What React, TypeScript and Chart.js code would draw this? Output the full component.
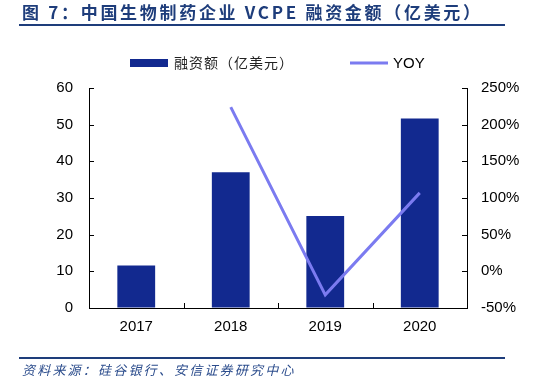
import React, { useEffect, useRef } from "react";
import { Chart, registerables } from "chart.js";

Chart.register(...registerables);

const categories = ["2017", "2018", "2019", "2020"];
const fundingValues = [11.6, 37.0, 25.1, 51.7];
const yoyValues: (number | null)[] = [null, 224, -32, 107];
const leftTicks = { min: 0, max: 60, step: 10 };
const rightTicks = { min: -50, max: 250, step: 50 };

const BAR_COLOR = "#12298F";
const LINE_COLOR = "#7B7BF0";
const TITLE_COLOR = "#1E3D7B";

const innerTicks = {
  id: "innerTicks",
  afterDraw(chart: any) {
    const ctx = chart.ctx;
    const { x, y, y1 } = chart.scales;
    ctx.save();
    ctx.strokeStyle = "#000";
    ctx.lineWidth = 1;
    ctx.beginPath();
    y.ticks.forEach((t: any) => {
      const py = Math.round(y.getPixelForValue(t.value)) + 0.5;
      ctx.moveTo(chart.chartArea.left, py);
      ctx.lineTo(chart.chartArea.left + 5, py);
    });
    y1.ticks.forEach((t: any) => {
      const py = Math.round(y1.getPixelForValue(t.value)) + 0.5;
      ctx.moveTo(chart.chartArea.right, py);
      ctx.lineTo(chart.chartArea.right - 5, py);
    });
    const n = categories.length;
    for (let i = 1; i < n; i++) {
      const px = Math.round((x.getPixelForValue(i - 1) + x.getPixelForValue(i)) / 2) + 0.5;
      ctx.moveTo(px, chart.chartArea.bottom);
      ctx.lineTo(px, chart.chartArea.bottom - 5);
    }
    ctx.stroke();
    ctx.restore();
  },
};

const customLegend = {
  id: "customLegend",
  afterDraw(chart: any) {
    const ctx = chart.ctx;
    const ds = chart.data.datasets;
    ctx.save();
    ctx.fillStyle = ds[0].backgroundColor;
    ctx.fillRect(130, 59, 38, 8);
    ctx.fillStyle = "#222";
    ctx.font = "14px 'Noto Sans CJK SC'";
    ctx.textBaseline = "middle";
    (ctx as any).letterSpacing = "1px";
    ctx.fillText(ds[0].label, 174, 63);
    ctx.strokeStyle = ds[1].borderColor;
    ctx.lineWidth = 3;
    ctx.beginPath();
    ctx.moveTo(350, 63);
    ctx.lineTo(388, 63);
    ctx.stroke();
    (ctx as any).letterSpacing = "0px";
    ctx.fillStyle = "#000";
    ctx.font = "15px 'Liberation Sans'";
    ctx.fillText(ds[1].label, 393, 64);
    ctx.restore();
  },
};

export default function App() {
  const ref = useRef<HTMLCanvasElement>(null);
  useEffect(() => {
    if (!ref.current) return;
    const chart = new Chart(ref.current, {
      type: "bar",
      data: {
        labels: categories,
        datasets: [
          {
            type: "bar",
            label: "融资额（亿美元）",
            data: fundingValues,
            backgroundColor: BAR_COLOR,
            yAxisID: "y",
            categoryPercentage: 1,
            barPercentage: 0.4,
            order: 1,
          },
          {
            type: "line",
            label: "YOY",
            data: yoyValues,
            borderColor: LINE_COLOR,
            backgroundColor: LINE_COLOR,
            borderWidth: 3,
            pointRadius: 0,
            tension: 0,
            yAxisID: "y1",
            order: 0,
          } as any,
        ],
      },
      options: {
        animation: false,
        responsive: false,
        maintainAspectRatio: false,
        layout: { padding: { top: 88, left: 0, right: 0, bottom: 0 } },
        plugins: { legend: { display: false }, tooltip: { enabled: false }, title: { display: false } },
        scales: {
          x: {
            grid: { display: true, drawOnChartArea: false, drawTicks: false },
            border: { display: true, color: "#000", width: 1 },
            ticks: { color: "#000", font: { family: "'Liberation Sans'", size: 15 }, padding: 10 },
            afterFit: (s: any) => { s.height = 71; },
          },
          y: {
            position: "left",
            min: leftTicks.min,
            max: leftTicks.max,
            grid: { display: true, drawOnChartArea: false, drawTicks: false },
            border: { display: true, color: "#000", width: 1 },
            ticks: { stepSize: leftTicks.step, color: "#000", font: { family: "'Liberation Sans'", size: 15 }, padding: 16 },
            afterFit: (s: any) => { s.width = 89; },
          },
          y1: {
            position: "right",
            min: rightTicks.min,
            max: rightTicks.max,
            grid: { display: true, drawOnChartArea: false, drawTicks: false },
            border: { display: true, color: "#000", width: 1 },
            ticks: {
              stepSize: rightTicks.step,
              color: "#000",
              font: { family: "'Liberation Sans'", size: 15 },
              padding: 14,
              callback: (v: any) => v + "%",
            },
            afterFit: (s: any) => { s.width = 90; },
          },
        },
      },
      plugins: [innerTicks, customLegend],
    });
    return () => chart.destroy();
  }, []);

  return (
    <div style={{ position: "absolute", left: 0, top: 0, width: 557, height: 379, background: "#fff", overflow: "hidden" }}>
      <canvas ref={ref} width={557} height={379} style={{ position: "absolute", left: 0, top: 0, width: 557, height: 379 }} />
      <div
        style={{
          position: "absolute",
          left: 22,
          top: 0,
          fontFamily: "'Noto Sans CJK SC'",
          fontWeight: 700,
          fontSize: 17,
          letterSpacing: 2.7,
          color: TITLE_COLOR,
          whiteSpace: "nowrap",
          lineHeight: "24px",
        }}
      >
        图 7：中国生物制药企业 VCPE 融资金额（亿美元）
      </div>
      <div style={{ position: "absolute", left: 19, top: 24, width: 486, height: 2, background: TITLE_COLOR }} />
      <div style={{ position: "absolute", left: 19, top: 357, width: 486, height: 1.5, background: TITLE_COLOR }} />
      <div
        style={{
          position: "absolute",
          left: 22,
          top: 361,
          fontFamily: "'Noto Sans CJK SC'",
          fontStyle: "italic",
          fontSize: 13,
          letterSpacing: 2.2,
          color: "#2B4C8C",
          whiteSpace: "nowrap",
          lineHeight: "18px",
        }}
      >
        资料来源：硅谷银行、安信证券研究中心
      </div>
    </div>
  );
}
